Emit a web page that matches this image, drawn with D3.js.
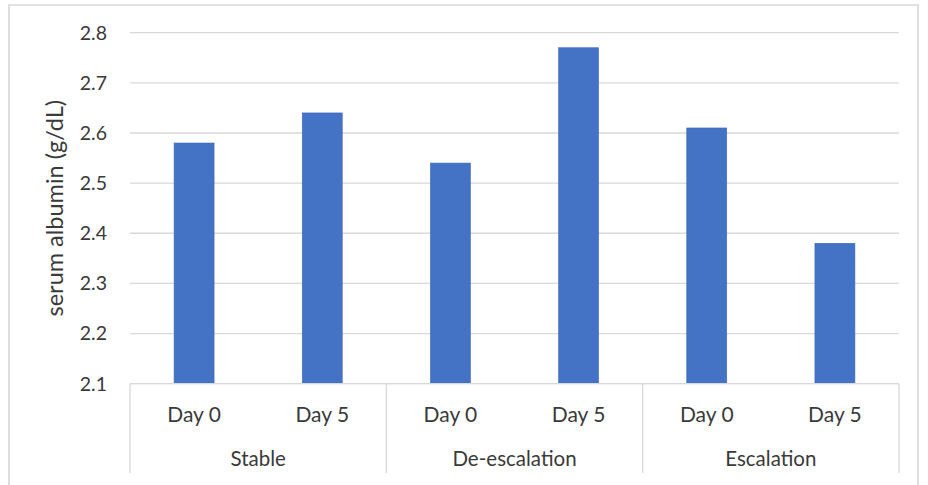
<!DOCTYPE html>
<html>
<head>
<meta charset="UTF-8">
<style>
  body { margin: 0; background: #fff; }
  svg { display: block; }
  text { font-family: Lato, "Open Sans", sans-serif; fill: #3a3a3a; }
</style>
</head>
<body>
<svg id="chart"></svg>
<script src="https://d3js.org/d3.v7.min.js"></script>
<script>
// data
const groups = ["Stable", "De-escalation", "Escalation"];
const days = ["Day 0", "Day 5"];
const albumin = [
  [2.58, 2.64],   // Stable
  [2.54, 2.77],   // De-escalation
  [2.61, 2.38]    // Escalation
];
const yTicks = [2.1, 2.2, 2.3, 2.4, 2.5, 2.6, 2.7, 2.8];

const width = 928, height = 485;
const plotLeft = 130, plotRight = 899, plotTop = 32.7, plotBottom = 383.7;

const svg = d3.select("#chart")
    .attr("width", width)
    .attr("height", height);

// outer frame (open at the bottom, cropped in the original)
svg.append("path")
    .attr("d", "M9,485 V5 H918 V485")
    .attr("fill", "none")
    .attr("stroke", "#d9d9d9")
    .attr("stroke-width", 1.7);

let y = d3.scaleLinear().domain([2.1, 2.8]).range([plotBottom, plotTop]);

let x0 = d3.scaleBand().domain(groups).range([plotLeft, plotRight]).padding(0);
let x1 = d3.scaleBand().domain(days).range([0, x0.bandwidth()])
    .paddingInner(0.688).paddingOuter(0.344);

// gridlines
svg.append("g")
    .selectAll("line")
    .data(yTicks)
    .enter()
    .append("line")
    .attr("x1", plotLeft).attr("x2", plotRight)
    .attr("y1", d => y(d)).attr("y2", d => y(d))
    .attr("stroke", "#d9d9d9")
    .attr("stroke-width", 1.3);

// y tick labels
svg.append("g")
    .selectAll("text")
    .data(yTicks)
    .enter()
    .append("text")
    .attr("x", 107)
    .attr("y", d => y(d))
    .attr("dy", "0.35em")
    .attr("text-anchor", "end")
    .attr("font-size", 19.5)
    .text(d => d3.format(".1f")(d));

// y title
svg.append("text")
    .attr("transform", "translate(63," + y(2.45) + ") rotate(-90)")
    .attr("text-anchor", "middle")
    .attr("font-size", 23.5)
    .text("serum albumin (g/dL)");

// bars
let bars = svg.append("g");
groups.forEach((g, gi) => {
  bars.selectAll(null)
      .data(days)
      .enter()
      .append("rect")
      .attr("x", d => x0(g) + x1(d))
      .attr("width", x1.bandwidth())
      .attr("y", (d, di) => y(albumin[gi][di]))
      .attr("height", (d, di) => plotBottom - y(albumin[gi][di]))
      .attr("fill", "#4472c4")
      .attr("stroke", "#3f6bb8")
      .attr("stroke-width", 0.6);
});

// category axis: baseline + group separators
svg.append("line")
    .attr("x1", plotLeft).attr("x2", plotRight)
    .attr("y1", plotBottom).attr("y2", plotBottom)
    .attr("stroke", "#d9d9d9")
    .attr("stroke-width", 1.3);

let seps = groups.map(g => x0(g)).concat([plotRight]);
svg.append("g")
    .selectAll("line")
    .data(seps)
    .enter()
    .append("line")
    .attr("x1", d => d).attr("x2", d => d)
    .attr("y1", plotBottom).attr("y2", 473)
    .attr("stroke", "#d9d9d9")
    .attr("stroke-width", 1.3);

// day labels
groups.forEach(g => {
  svg.append("g")
      .selectAll("text")
      .data(days)
      .enter()
      .append("text")
      .attr("x", d => x0(g) + x1(d) + x1.bandwidth() / 2)
      .attr("y", 421.7)
      .attr("text-anchor", "middle")
      .attr("font-size", 21)
      .text(d => d);
});

// group labels
svg.append("g")
    .selectAll("text")
    .data(groups)
    .enter()
    .append("text")
    .attr("x", d => x0(d) + x0.bandwidth() / 2)
    .attr("y", 466)
    .attr("text-anchor", "middle")
    .attr("font-size", 20.5)
    .text(d => d);
</script>
</body>
</html>
